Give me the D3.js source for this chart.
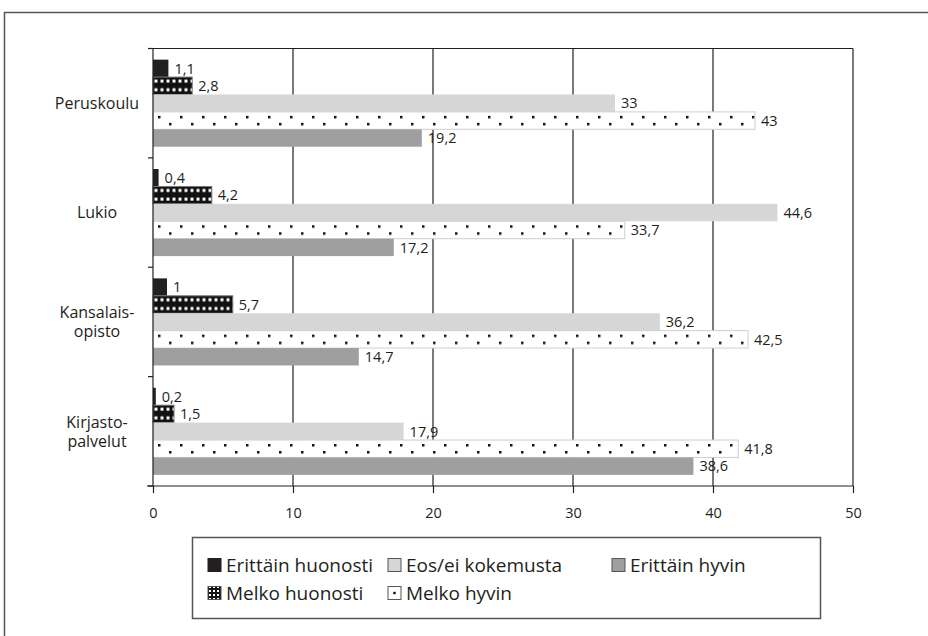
<!DOCTYPE html>
<meta charset="utf-8">
<style>
body { margin: 0; background: #fff; }
svg { font-family: "Open Sans", sans-serif; fill: #231f20; }
.val { font-size: 14.5px; }
.cat { font-size: 16px; }
.tick text { font-size: 14.5px; }
.leg { font-size: 19px; }
</style>
<body>
<script src="https://cdn.jsdelivr.net/npm/d3@7"></script>
<script>
var categories = ["Peruskoulu", "Lukio", "Kansalaisopisto", "Kirjastopalvelut"];
var categoryLines = [["Peruskoulu"], ["Lukio"], ["Kansalais-", "opisto"], ["Kirjasto-", "palvelut"]];
var series = ["Erittäin huonosti", "Melko huonosti", "Eos/ei kokemusta", "Melko hyvin", "Erittäin hyvin"];
var erittainHuonosti = [1.1, 0.4, 1, 0.2];
var melkoHuonosti = [2.8, 4.2, 5.7, 1.5];
var eos = [33, 44.6, 36.2, 17.9];
var melkoHyvin = [43, 33.7, 42.5, 41.8];
var erittainHyvin = [19.2, 17.2, 14.7, 38.6];
var xTicks = [0, 10, 20, 30, 40, 50];

var values = [erittainHuonosti, melkoHuonosti, eos, melkoHyvin, erittainHyvin];

var W = 928, H = 636;
var pLeft = 153, pRight = 853, pTop = 48.5, pBottom = 486;

var svg = d3.select("body").append("svg")
  .attr("width", W).attr("height", H);

// outer frame
svg.append("rect")
  .attr("x", 4.5).attr("y", 12.5)
  .attr("width", 1000).attr("height", 1000)
  .attr("fill", "none").attr("stroke", "#555").attr("stroke-width", 1.5);

var x = d3.scaleLinear().domain([0, 50]).range([pLeft, pRight]);
var y0 = d3.scaleBand().domain(categories).range([pTop, pBottom]);
var y1 = d3.scaleBand().domain(series).range([0, y0.bandwidth()]).paddingOuter(0.64);

var defs = svg.append("defs");
// patterns aligned to each bar's top
categories.forEach(function(c, i) {
  var by = y0(c) + y1("Melko huonosti");
  var p = defs.append("pattern").attr("id", "mhuo" + i)
    .attr("patternUnits", "userSpaceOnUse")
    .attr("x", pLeft).attr("y", by)
    .attr("width", 6).attr("height", y1.bandwidth() / 2);
  p.append("rect").attr("width", 6).attr("height", y1.bandwidth() / 2).attr("fill", "#111");
  p.append("rect").attr("x", 1.5).attr("y", 2.5).attr("width", 3).attr("height", 3).attr("fill", "#fff");

  var hy = y0(c) + y1("Melko hyvin");
  var q = defs.append("pattern").attr("id", "mhyv" + i)
    .attr("patternUnits", "userSpaceOnUse")
    .attr("x", pLeft).attr("y", hy)
    .attr("width", 22).attr("height", 14);
  q.append("rect").attr("width", 22).attr("height", 14).attr("fill", "#fff");
  q.append("rect").attr("x", 5).attr("y", 4).attr("width", 2.5).attr("height", 2.5).attr("fill", "#111");
  q.append("rect").attr("x", 16).attr("y", 11).attr("width", 2.5).attr("height", 2.5).attr("fill", "#111");
});
var lp1 = defs.append("pattern").attr("id", "legHuo")
  .attr("patternUnits", "userSpaceOnUse").attr("width", 4).attr("height", 4);
lp1.append("rect").attr("width", 4).attr("height", 4).attr("fill", "#111");
lp1.append("rect").attr("x", 1).attr("y", 1).attr("width", 2).attr("height", 2).attr("fill", "#fff");

function fillFor(si, ci) {
  if (si === 0) return "#231f20";
  if (si === 1) return "url(#mhuo" + ci + ")";
  if (si === 2) return "#d6d6d6";
  if (si === 3) return "url(#mhyv" + ci + ")";
  return "#a09f9f";
}
function strokeFor(si) {
  if (si === 1) return "#777";
  if (si === 3) return "#cfcfcf";
  return "none";
}

// gridlines
svg.append("g").selectAll("line")
  .data(xTicks.slice(1))
  .enter().append("line")
  .attr("x1", function(d) { return x(d); }).attr("x2", function(d) { return x(d); })
  .attr("y1", pTop).attr("y2", pBottom)
  .attr("stroke", "#231f20").attr("stroke-width", 1.2);
svg.append("line")
  .attr("x1", pLeft).attr("x2", pRight).attr("y1", pTop).attr("y2", pTop)
  .attr("stroke", "#231f20").attr("stroke-width", 1.2);

// bars
var rows = [];
categories.forEach(function(c, ci) {
  series.forEach(function(s, si) {
    rows.push({ cat: c, ci: ci, s: s, si: si, v: values[si][ci] });
  });
});

svg.append("g").selectAll("rect")
  .data(rows)
  .enter().append("rect")
  .attr("x", x(0))
  .attr("y", function(d) { return y0(d.cat) + y1(d.s); })
  .attr("width", function(d) { return x(d.v) - x(0); })
  .attr("height", y1.bandwidth())
  .attr("fill", function(d) { return fillFor(d.si, d.ci); })
  .attr("stroke", function(d) { return strokeFor(d.si); })
  .attr("stroke-width", 1);

svg.append("g").selectAll("text")
  .data(rows)
  .enter().append("text")
  .attr("class", "val")
  .attr("x", function(d) { return x(d.v) + 6; })
  .attr("y", function(d) { return y0(d.cat) + y1(d.s) + y1.bandwidth() / 2; })
  .attr("dy", "0.36em")
  .text(function(d) { return String(d.v).replace(".", ","); });

// y axis
svg.append("line")
  .attr("x1", pLeft).attr("x2", pLeft).attr("y1", pTop).attr("y2", pBottom)
  .attr("stroke", "#231f20").attr("stroke-width", 1.2);
var bounds = categories.map(function(c) { return y0(c); }).concat([pBottom]);
svg.append("g").selectAll("line")
  .data(bounds)
  .enter().append("line")
  .attr("x1", pLeft - 5).attr("x2", pLeft)
  .attr("y1", function(d) { return d; }).attr("y2", function(d) { return d; })
  .attr("stroke", "#231f20").attr("stroke-width", 1.2);

svg.append("g").selectAll("text")
  .data(categories)
  .enter().append("text")
  .attr("class", "cat")
  .attr("text-anchor", "middle")
  .each(function(c, i) {
    var lines = categoryLines[i];
    var cy = y0(c) + y0.bandwidth() / 2;
    var lh = 19;
    var t = d3.select(this);
    lines.forEach(function(l, k) {
      t.append("tspan")
        .attr("x", 97)
        .attr("y", cy + (k - (lines.length - 1) / 2) * lh)
        .attr("dy", "0.36em")
        .text(l);
    });
  });

// x axis
var xAxis = svg.append("g")
  .attr("transform", "translate(0," + pBottom + ")")
  .call(d3.axisBottom(x).tickValues(xTicks).tickSize(7).tickPadding(15).tickSizeOuter(0));
xAxis.select(".domain").remove();
xAxis.selectAll(".tick line").attr("stroke", "#231f20").attr("stroke-width", 1.2);
xAxis.selectAll(".tick text").attr("fill", "#231f20").style("font-family", "'Open Sans', sans-serif");
svg.append("line")
  .attr("x1", pLeft - 6).attr("x2", pRight).attr("y1", pBottom).attr("y2", pBottom)
  .attr("stroke", "#231f20").attr("stroke-width", 1.2);

// legend
svg.append("rect")
  .attr("x", 192.5).attr("y", 537.5).attr("width", 628).attr("height", 81)
  .attr("fill", "#fff").attr("stroke", "#555").attr("stroke-width", 1.5);
var legPos = [
  { s: 0, x: 208, y: 565 },
  { s: 2, x: 388, y: 565 },
  { s: 4, x: 612, y: 565 },
  { s: 1, x: 208, y: 593 },
  { s: 3, x: 388, y: 593 }
];
var lg = svg.append("g").selectAll("g")
  .data(legPos)
  .enter().append("g")
  .attr("transform", function(d) { return "translate(" + d.x + "," + d.y + ")"; });
lg.append("rect")
  .attr("x", 0).attr("y", -6.5).attr("width", 13).attr("height", 13)
  .attr("fill", function(d) {
    if (d.s === 1) return "url(#legHuo)";
    if (d.s === 3) return "#fff";
    return fillFor(d.s, 0);
  })
  .attr("stroke", function(d) { return d.s === 0 ? "#231f20" : "#555"; })
  .attr("stroke-width", 1);
lg.filter(function(d) { return d.s === 3; }).append("rect")
  .attr("x", 5.3).attr("y", -1.2).attr("width", 2.4).attr("height", 2.4).attr("fill", "#111");
lg.append("text")
  .attr("class", "leg")
  .attr("x", 18).attr("dy", "0.36em")
  .text(function(d) { return series[d.s]; });
</script>
</body>
